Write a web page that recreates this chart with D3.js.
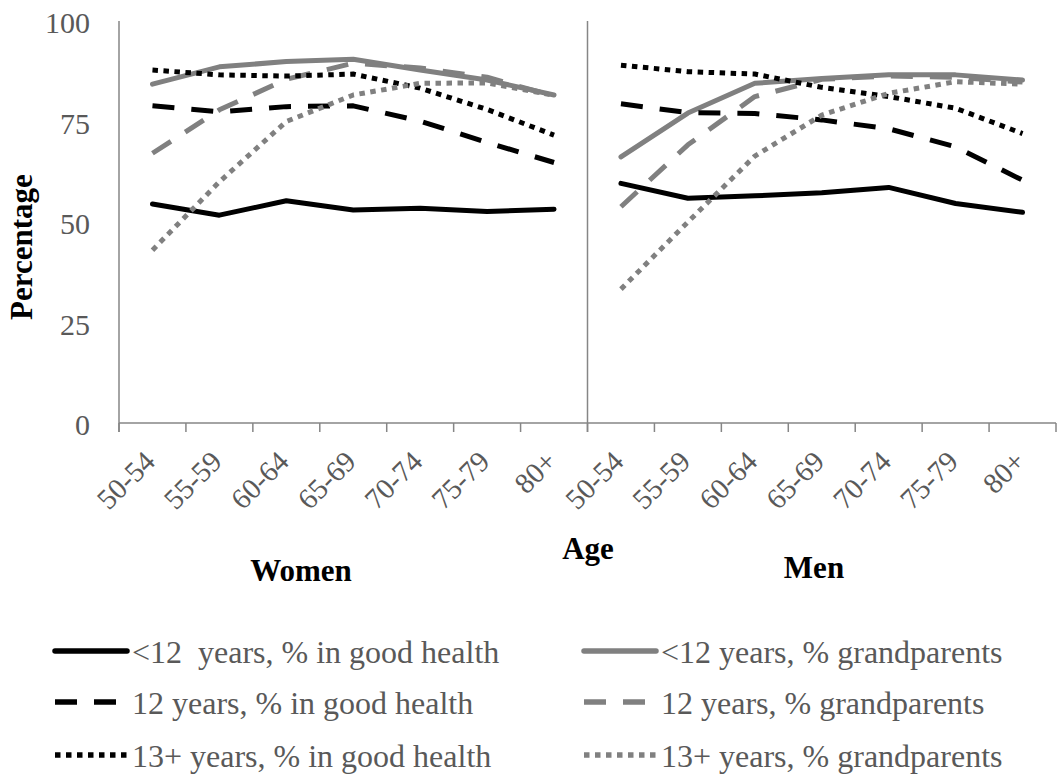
<!DOCTYPE html>
<html>
<head>
<meta charset="utf-8">
<title>Good health and grandparenthood by age and education</title>
<style>
  body { margin: 0; background: #fff; }
  text { font-family: "Liberation Serif", "Times New Roman", serif; }
</style>
</head>
<body>
<svg id="chart"></svg>
<script src="https://d3js.org/d3.v7.min.js"></script>
<script>
// categories
const ages = ["50-54", "55-59", "60-64", "65-69", "70-74", "75-79", "80+"];
const panels = ["Women", "Men"];
const yTicks = [0, 25, 50, 75, 100];

// women, percentages
const womenLt12Health = [54.5, 51.7, 55.3, 53.0, 53.4, 52.6, 53.2];
const women12Health   = [78.9, 77.4, 78.7, 78.9, 75.1, 69.8, 64.8];
const women13Health   = [87.8, 86.6, 86.3, 86.8, 83.3, 78.0, 71.6];
const womenLt12Grand  = [84.3, 88.6, 89.9, 90.5, 87.8, 85.3, 81.6];
const women12Grand    = [67.1, 77.9, 85.5, 89.5, 88.3, 86.0, 81.3];
const women13Grand    = [43.0, 60.0, 75.0, 81.6, 84.5, 84.6, 81.5];

// men
const menLt12Health = [59.6, 55.9, 56.5, 57.3, 58.6, 54.6, 52.4];
const men12Health   = [79.4, 77.2, 77.0, 75.4, 73.2, 68.7, 60.4];
const men13Health   = [89.0, 87.4, 86.8, 83.5, 81.2, 78.3, 72.0];
const menLt12Grand  = [66.2, 77.1, 84.5, 85.7, 86.6, 86.6, 85.3];
const men12Grand    = [53.8, 69.2, 81.2, 85.5, 86.3, 86.0, 84.8];
const men13Grand    = [33.3, 50.0, 66.4, 76.6, 82.0, 84.9, 84.3];

// series (legend order, row by row)
const series = [
  {name: "<12  years, % in good health", women: womenLt12Health, men: menLt12Health, color: "#000", dash: null},
  {name: "<12 years, % grandparents",    women: womenLt12Grand,  men: menLt12Grand,  color: "#808080", dash: null},
  {name: "12 years, % in good health",   women: women12Health,   men: men12Health,   color: "#000", dash: "22,17"},
  {name: "12 years, % grandparents",     women: women12Grand,    men: men12Grand,    color: "#808080", dash: "22,17"},
  {name: "13+ years, % in good health",  women: women13Health,   men: men13Health,   color: "#000", dash: "5.5,5.5"},
  {name: "13+ years, % grandparents",    women: women13Grand,    men: men13Grand,    color: "#808080", dash: "5.5,5.5"}
];

const W = 1061, H = 782;
const plotLeft = 119, plotRight = 1056, plotTop = 21, plotBottom = 423;
const axisColor = "#868686", labelColor = "#595959";

const svg = d3.select("#chart").attr("width", W).attr("height", H);

// one band per panel/age pair
const keys = [];
panels.forEach(p => ages.forEach(a => keys.push(p + "|" + a)));
const x = d3.scaleBand().domain(keys).range([plotLeft, plotRight]).paddingInner(0).paddingOuter(0);
const y = d3.scaleLinear().domain([0, 100]).range([plotBottom, plotTop]);
const cx = k => x(k) + x.bandwidth() / 2;

// y axis
svg.append("line")
  .attr("x1", plotLeft).attr("x2", plotLeft).attr("y1", plotTop).attr("y2", plotBottom + 9)
  .attr("stroke", axisColor).attr("stroke-width", 1.5);

svg.selectAll(".ytick").data(yTicks).enter().append("text")
  .attr("class", "ytick")
  .attr("x", 90).attr("y", d => y(d) + 12)
  .attr("text-anchor", "end")
  .attr("fill", labelColor)
  .style("font-size", "30px")
  .text(d => d);

// divider between panels
svg.append("line")
  .attr("x1", x("Men|" + ages[0])).attr("x2", x("Men|" + ages[0]))
  .attr("y1", plotTop).attr("y2", plotBottom + 9)
  .attr("stroke", axisColor).attr("stroke-width", 1.5);

// x axis with ticks at band edges
svg.append("line")
  .attr("x1", plotLeft).attr("x2", plotRight).attr("y1", plotBottom).attr("y2", plotBottom)
  .attr("stroke", axisColor).attr("stroke-width", 1.5);

const edges = keys.map(k => x(k)).concat([plotRight]);
svg.selectAll(".xtick").data(edges).enter().append("line")
  .attr("class", "xtick")
  .attr("x1", d => d).attr("x2", d => d)
  .attr("y1", plotBottom).attr("y2", plotBottom + 9)
  .attr("stroke", axisColor).attr("stroke-width", 1.5);

svg.selectAll(".xlabel").data(keys).enter().append("text")
  .attr("class", "xlabel")
  .attr("transform", d => `translate(${cx(d) - 3},${456}) rotate(-45)`)
  .attr("text-anchor", "end")
  .attr("dy", "0.35em")
  .attr("fill", labelColor)
  .style("font-size", "29px")
  .text(d => d.split("|")[1]);

// titles
svg.append("text")
  .attr("transform", "translate(32,247) rotate(-90)")
  .attr("text-anchor", "middle")
  .style("font-size", "31px").style("font-weight", "bold")
  .text("Percentage");

svg.append("text")
  .attr("x", 588).attr("y", 559)
  .attr("text-anchor", "middle")
  .style("font-size", "31px").style("font-weight", "bold")
  .text("Age");

svg.append("text")
  .attr("x", 301).attr("y", 581)
  .attr("text-anchor", "middle")
  .style("font-size", "31px").style("font-weight", "bold")
  .text("Women");

svg.append("text")
  .attr("x", 814).attr("y", 578)
  .attr("text-anchor", "middle")
  .style("font-size", "31px").style("font-weight", "bold")
  .text("Men");

// lines
const line = d3.line()
  .x(d => cx(d.key))
  .y(d => y(d.value));

series.forEach(s => {
  panels.forEach(p => {
    const vals = p === "Women" ? s.women : s.men;
    const pts = ages.map((a, i) => ({key: p + "|" + a, value: vals[i]}));
    svg.append("path")
      .datum(pts)
      .attr("d", line)
      .attr("fill", "none")
      .attr("stroke", s.color)
      .attr("stroke-width", 5)
      .attr("stroke-linejoin", "round")
      .attr("stroke-linecap", s.dash ? "butt" : "round")
      .attr("stroke-dasharray", s.dash);
  });
});

// legend: two columns, three rows
const legX = [55, 584], legY = [651, 702, 755];
const legend = svg.selectAll(".leg").data(series).enter().append("g")
  .attr("class", "leg")
  .attr("transform", (d, i) => `translate(${legX[i % 2]},${legY[Math.floor(i / 2)]})`);

legend.append("line")
  .attr("x1", 0).attr("x2", 72).attr("y1", 0).attr("y2", 0)
  .attr("stroke", d => d.color)
  .attr("stroke-width", 5.5)
  .attr("stroke-linecap", d => d.dash ? "butt" : "round")
  .attr("stroke-dasharray", d => d.dash);

legend.append("text")
  .attr("x", 77)
  .attr("y", 12)
  .attr("fill", labelColor)
  .style("font-size", "32px")
  .style("white-space", "pre")
  .text(d => d.name);
</script>
</body>
</html>
